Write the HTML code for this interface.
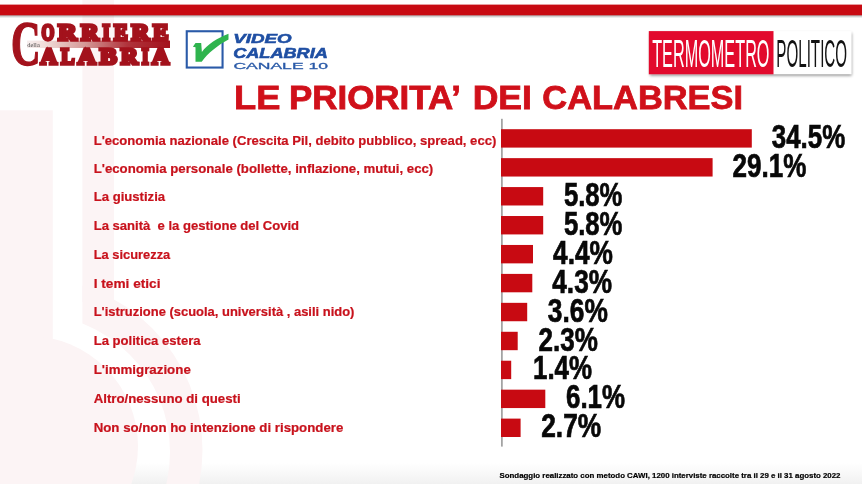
<!DOCTYPE html>
<html><head><meta charset="utf-8"><title>Le priorita' dei calabresi</title>
<style>
html,body{margin:0;padding:0;background:#fff;}
body{width:862px;height:484px;overflow:hidden;font-family:"Liberation Sans",sans-serif;}
svg{display:block;}
text{font-family:"Liberation Sans",sans-serif;}
.ser{font-family:"Liberation Serif",serif;}
</style></head><body>
<svg width="862" height="484" viewBox="0 0 862 484" style="opacity:0.9999">
<defs>
<linearGradient id="botg" x1="0" y1="0" x2="0" y2="1"><stop offset="0" stop-color="#ffffff"/><stop offset="1" stop-color="#f1f1f1"/></linearGradient>
<linearGradient id="topsh" x1="0" y1="0" x2="0" y2="1"><stop offset="0" stop-color="#000" stop-opacity="0.35"/><stop offset="1" stop-color="#000" stop-opacity="0"/></linearGradient>
<linearGradient id="cband" x1="0" y1="0" x2="1" y2="0"><stop offset="0" stop-color="#f6eeee"/><stop offset="0.12" stop-color="#f1dedb"/><stop offset="0.4" stop-color="#d59a98"/><stop offset="0.7" stop-color="#b0343c"/><stop offset="1" stop-color="#a3121c"/></linearGradient>
<filter id="sh" x="-10%" y="-20%" width="120%" height="150%"><feGaussianBlur stdDeviation="1.6"/></filter>
<clipPath id="cpR"><rect x="82.4" y="0" width="400" height="484"/></clipPath>
</defs>
<rect x="0" y="0" width="862" height="484" fill="#ffffff"/>
<rect x="0" y="463" width="862" height="21" fill="url(#botg)"/>
<!-- watermark -->
<g fill="#fcf4f5">
<rect x="0" y="110.3" width="52.8" height="374"/>
<circle cx="28" cy="446" r="110"/>
<rect x="82.4" y="0" width="31.6" height="302"/>
<path clip-path="url(#cpR)" fill-rule="evenodd" d="M-142.5,450 a172.5,172.5 0 1,0 345,0 a172.5,172.5 0 1,0 -345,0 Z M-106,452 a138,138 0 1,0 276,0 a138,138 0 1,0 -276,0 Z"/>
</g>
<!-- top bar -->
<rect x="0" y="15" width="862" height="3.2" fill="url(#topsh)"/>
<rect x="0" y="4.6" width="862" height="10.7" fill="#c80a12"/>
<!-- corriere -->
<g id="corriere" fill="#a3121c">
<rect x="27" y="40.6" width="143" height="7.4" fill="url(#cband)"/>
<text class="ser" x="10.9" y="65.2" font-size="63" font-weight="bold" fill="#a3121c" stroke="#a3121c" stroke-width="1.5" textLength="29.5" lengthAdjust="spacingAndGlyphs">C</text>
<g class="ser" font-weight="bold" font-size="23.6" stroke="#a3121c" stroke-width="3.4" stroke-linejoin="miter">
<text class="ser" x="41.60" y="39.6" textLength="12.80" lengthAdjust="spacingAndGlyphs">O</text>
<text class="ser" x="58.30" y="39.6" textLength="18.40" lengthAdjust="spacingAndGlyphs">R</text>
<text class="ser" x="81.10" y="39.6" textLength="17.60" lengthAdjust="spacingAndGlyphs">R</text>
<text class="ser" x="102.60" y="39.6" textLength="7.40" lengthAdjust="spacingAndGlyphs">I</text>
<text class="ser" x="113.90" y="39.6" textLength="13.70" lengthAdjust="spacingAndGlyphs">E</text>
<text class="ser" x="131.40" y="39.6" textLength="17.70" lengthAdjust="spacingAndGlyphs">R</text>
<text class="ser" x="153.00" y="39.6" textLength="15.40" lengthAdjust="spacingAndGlyphs">E</text>
<text class="ser" x="40.50" y="64.2" textLength="16.60" lengthAdjust="spacingAndGlyphs">A</text>
<text class="ser" x="60.90" y="64.2" textLength="13.50" lengthAdjust="spacingAndGlyphs">L</text>
<text class="ser" x="77.80" y="64.2" textLength="18.10" lengthAdjust="spacingAndGlyphs">A</text>
<text class="ser" x="99.80" y="64.2" textLength="17.10" lengthAdjust="spacingAndGlyphs">B</text>
<text class="ser" x="120.70" y="64.2" textLength="17.10" lengthAdjust="spacingAndGlyphs">R</text>
<text class="ser" x="141.70" y="64.2" textLength="6.90" lengthAdjust="spacingAndGlyphs">I</text>
<text class="ser" x="151.90" y="64.2" textLength="17.10" lengthAdjust="spacingAndGlyphs">A</text>
</g>
<text class="ser" x="27.2" y="46.9" font-size="6" fill="#4a4a4a" textLength="12.6" lengthAdjust="spacingAndGlyphs">della</text>
</g>
<!-- videocalabria -->
<g id="vc">
<rect x="186.75" y="31.25" width="35.8" height="36.3" fill="#fff" stroke="#2a5aa8" stroke-width="2.1"/>
<path d="M192.9,46.7 L195.5,43.1 L201.2,43.1 L201.9,51.9 C207,45 217,38 228.5,33.8 L228.5,39.5 C218,45 208,53 201.7,61.7 L195.5,61.7 L195.5,47.2 Z" fill="#2fb44e"/>
<g fill="#1f4fa3" stroke="#1f4fa3" stroke-width="0.55" font-weight="bold" font-style="italic">
<text x="233.2" y="42.6" font-size="13" textLength="58.4" lengthAdjust="spacingAndGlyphs">VIDEO</text>
<text x="233.2" y="57.6" font-size="13.8" textLength="94.6" lengthAdjust="spacingAndGlyphs">CALABRIA</text>
</g>
<text x="233.4" y="69.1" font-size="9.8" fill="#2a5aa8" stroke="#2a5aa8" stroke-width="0.3" textLength="94.6" lengthAdjust="spacingAndGlyphs">CANALE 10</text>
</g>
<!-- tp -->
<g id="tp">
<rect x="650" y="33" width="201.6" height="42.6" fill="#000" opacity="0.45" filter="url(#sh)"/>
<rect x="648.8" y="31.1" width="202.8" height="43.2" fill="#ffffff"/>
<rect x="648.8" y="31.1" width="124.7" height="43.2" fill="#e20a2d"/>
<text x="652.2" y="67.1" font-size="39" fill="#ffffff" textLength="117.3" lengthAdjust="spacingAndGlyphs">TERMOMETRO</text>
<text x="776.3" y="67.1" font-size="39" fill="#121212" textLength="70.8" lengthAdjust="spacingAndGlyphs">POLITICO</text>
</g>
<!-- title -->
<g font-size="33.6" font-weight="bold" fill="#d0101a" stroke="#d0101a" stroke-width="0.8">
<text x="234.1" y="108.6" textLength="46.4" lengthAdjust="spacingAndGlyphs">LE</text>
<text x="288.9" y="108.6" textLength="172.2" lengthAdjust="spacingAndGlyphs">PRIORITA’</text>
<text x="472.7" y="108.6" textLength="59.3" lengthAdjust="spacingAndGlyphs">DEI</text>
<text x="542.3" y="108.6" textLength="200.8" lengthAdjust="spacingAndGlyphs">CALABRESI</text>
</g>
<rect x="501.1" y="118.8" width="1.6" height="327.8" fill="#9a9a9a"/>
<rect x="501.0" y="129.20" width="250.8" height="18.4" fill="#c80a12"/>
<rect x="501.0" y="158.14" width="211.6" height="18.4" fill="#c80a12"/>
<rect x="501.0" y="187.08" width="42.2" height="18.4" fill="#c80a12"/>
<rect x="501.0" y="216.02" width="42.2" height="18.4" fill="#c80a12"/>
<rect x="501.0" y="244.96" width="32.0" height="18.4" fill="#c80a12"/>
<rect x="501.0" y="273.90" width="31.3" height="18.4" fill="#c80a12"/>
<rect x="501.0" y="302.84" width="26.2" height="18.4" fill="#c80a12"/>
<rect x="501.0" y="331.78" width="16.7" height="18.4" fill="#c80a12"/>
<rect x="501.0" y="360.72" width="10.2" height="18.4" fill="#c80a12"/>
<rect x="501.0" y="389.66" width="44.3" height="18.4" fill="#c80a12"/>
<rect x="501.0" y="418.60" width="19.6" height="18.4" fill="#c80a12"/>
<g font-size="12.3" font-weight="bold" fill="#C8121C" stroke="#C8121C" stroke-width="0.2">
<text x="93.7" y="144.5" textLength="402.6" lengthAdjust="spacingAndGlyphs" xml:space="preserve">L'economia nazionale (Crescita Pil, debito pubblico, spread, ecc)</text>
<text x="93.7" y="173.2" textLength="339.6" lengthAdjust="spacingAndGlyphs" xml:space="preserve">L'economia personale (bollette, inflazione, mutui, ecc)</text>
<text x="93.7" y="201.2" textLength="71.4" lengthAdjust="spacingAndGlyphs" xml:space="preserve">La giustizia</text>
<text x="93.7" y="230.1" textLength="205.4" lengthAdjust="spacingAndGlyphs" xml:space="preserve">La sanità  e la gestione del Covid</text>
<text x="93.7" y="259.3" textLength="76.6" lengthAdjust="spacingAndGlyphs" xml:space="preserve">La sicurezza</text>
<text x="93.7" y="288.2" textLength="66.8" lengthAdjust="spacingAndGlyphs" xml:space="preserve">I temi etici</text>
<text x="93.7" y="316.2" textLength="260.7" lengthAdjust="spacingAndGlyphs" xml:space="preserve">L'istruzione (scuola, università , asili nido)</text>
<text x="93.7" y="345.1" textLength="106.9" lengthAdjust="spacingAndGlyphs" xml:space="preserve">La politica estera</text>
<text x="93.7" y="374.3" textLength="97.1" lengthAdjust="spacingAndGlyphs" xml:space="preserve">L'immigrazione</text>
<text x="93.7" y="403.2" textLength="146.9" lengthAdjust="spacingAndGlyphs" xml:space="preserve">Altro/nessuno di questi</text>
<text x="93.7" y="432.1" textLength="249.6" lengthAdjust="spacingAndGlyphs" xml:space="preserve">Non so/non ho intenzione di rispondere</text>
</g>
<g font-size="32.6" font-weight="bold" fill="#080808" stroke="#080808" stroke-width="0.7">
<text x="771.8" y="147.9" textLength="73.4" lengthAdjust="spacingAndGlyphs">34.5%</text>
<text x="732.5" y="176.8" textLength="73.8" lengthAdjust="spacingAndGlyphs">29.1%</text>
<text x="563.9" y="205.8" textLength="58.5" lengthAdjust="spacingAndGlyphs">5.8%</text>
<text x="563.9" y="234.7" textLength="58.5" lengthAdjust="spacingAndGlyphs">5.8%</text>
<text x="553.1" y="263.7" textLength="59.9" lengthAdjust="spacingAndGlyphs">4.4%</text>
<text x="552.3" y="292.6" textLength="59.7" lengthAdjust="spacingAndGlyphs">4.3%</text>
<text x="547.8" y="321.5" textLength="60.0" lengthAdjust="spacingAndGlyphs">3.6%</text>
<text x="538.6" y="350.5" textLength="59.3" lengthAdjust="spacingAndGlyphs">2.3%</text>
<text x="533.0" y="379.4" textLength="59.0" lengthAdjust="spacingAndGlyphs">1.4%</text>
<text x="566.0" y="408.4" textLength="59.0" lengthAdjust="spacingAndGlyphs">6.1%</text>
<text x="541.2" y="437.3" textLength="60.0" lengthAdjust="spacingAndGlyphs">2.7%</text>
</g>
<text x="499.5" y="478" font-size="7.6" font-weight="bold" fill="#000" stroke="#000" stroke-width="0.2" textLength="341" lengthAdjust="spacingAndGlyphs">Sondaggio realizzato con metodo CAWI, 1200 interviste raccolte tra il 29 e il 31 agosto 2022</text>
</svg>
</body></html>
